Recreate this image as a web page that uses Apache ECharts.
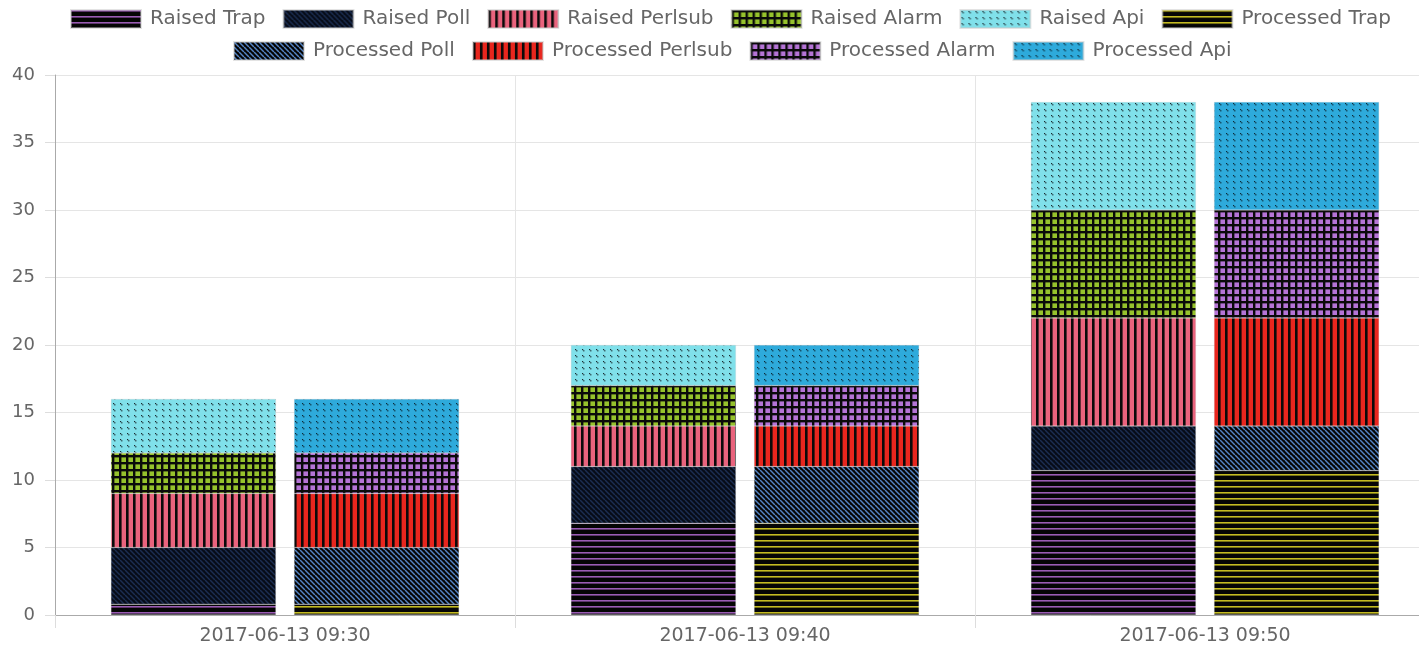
<!DOCTYPE html>
<html>
<head>
<meta charset="utf-8">
<script src="https://cdn.jsdelivr.net/npm/echarts@6/dist/echarts.min.js"></script>
<style>
html,body{margin:0;padding:0;background:#fff;overflow:hidden;width:1419px;height:648px;}
#chart{width:1450px;height:648px;}
</style>
</head>
<body>
<div id="chart"></div>
<script>
// ---- data ----
const categories = ['2017-06-13 09:30', '2017-06-13 09:40', '2017-06-13 09:50'];
const raisedTrap = [0.8, 6.8, 10.7];
const raisedPoll = [4.2, 4.2, 3.3];
const raisedPerlsub = [4, 3, 8];
const raisedAlarm = [3, 3, 8];
const raisedApi = [4, 3, 8];
const processedTrap = [0.8, 6.8, 10.7];
const processedPoll = [4.2, 4.2, 3.3];
const processedPerlsub = [4, 3, 8];
const processedAlarm = [3, 3, 8];
const processedApi = [4, 3, 8];
const yTicks = { min: 0, max: 40, interval: 5 };

// ---- pattern helpers (styles) ----
function makeTile(kind, bg, fg) {
  const c = document.createElement('canvas');
  let w = 6, h = 6;
  if (kind === 'hline') { w = 6; h = 6; }
  if (kind === 'vline') { w = 7; h = 7; }
  if (kind === 'grid') { w = 7; h = 7; }
  if (kind === 'diag') { w = 5; h = 5; }
  if (kind === 'dash') { w = 7; h = 6; }
  c.width = w; c.height = h;
  const g = c.getContext('2d');
  g.fillStyle = bg; g.fillRect(0, 0, w, h);
  g.fillStyle = fg; g.strokeStyle = fg;
  if (kind === 'hline') { g.fillRect(0, 0, w, 1.6); }
  if (kind === 'vline') { g.fillRect(0, 0, 2.6, h); }
  if (kind === 'grid') { g.fillRect(0, 0, 2.4, h); g.fillRect(0, 0, w, 2.4); }
  if (kind === 'diag') {
    g.lineWidth = 1.5;
    for (let o = -w; o <= w; o += w) {
      g.beginPath(); g.moveTo(o, 0); g.lineTo(o + w, h); g.stroke();
    }
  }
  if (kind === 'dash') {
    g.fillRect(1, 1, 1.2, 1.2); g.fillRect(2.2, 2.2, 1.2, 1.2);
  }
  return { image: c, repeat: 'repeat' };
}

const styles = {
  'Raised Trap': makeTile('hline', '#050505', '#9a5cb4'),
  'Raised Poll': makeTile('diag', '#070c18', '#1c2e52'),
  'Raised Perlsub': makeTile('vline', '#e9637d', '#0a0a0a'),
  'Raised Alarm': makeTile('grid', '#96c22c', '#0a0a0a'),
  'Raised Api': makeTile('dash', '#80e0ea', '#1a2a30'),
  'Processed Trap': makeTile('hline', '#050505', '#c4bb22'),
  'Processed Poll': makeTile('diag', '#050505', '#5584c4'),
  'Processed Perlsub': makeTile('vline', '#e8261e', '#0a0a0a'),
  'Processed Alarm': makeTile('grid', '#b574d6', '#0a0a0a'),
  'Processed Api': makeTile('dash', '#2eaadb', '#0d2a38')
};

const seriesDefs = [
  ['Raised Trap', raisedTrap, 'raised'],
  ['Raised Poll', raisedPoll, 'raised'],
  ['Raised Perlsub', raisedPerlsub, 'raised'],
  ['Raised Alarm', raisedAlarm, 'raised'],
  ['Raised Api', raisedApi, 'raised'],
  ['Processed Trap', processedTrap, 'processed'],
  ['Processed Poll', processedPoll, 'processed'],
  ['Processed Perlsub', processedPerlsub, 'processed'],
  ['Processed Alarm', processedAlarm, 'processed'],
  ['Processed Api', processedApi, 'processed']
];

const FONT = 'DejaVu Sans';
const chart = echarts.init(document.getElementById('chart'), null, { renderer: 'canvas' });
const legendCommon = {
  itemWidth: 70, itemHeight: 18, itemGap: 17, icon: 'rect', padding: 0,
  textStyle: { color: '#666', fontFamily: FONT, fontSize: 20, padding: [0, 0, 0, 4] },
  selectedMode: true
};
chart.setOption({
  animation: false,
  legend: [
    Object.assign({}, legendCommon, { top: 9, left: 70, data: seriesDefs.slice(0, 6).map(d => d[0]) }),
    Object.assign({}, legendCommon, { top: 41, left: 233, data: seriesDefs.slice(6).map(d => d[0]) })
  ],
  grid: { left: 55, width: 1380, top: 75, bottom: 33, containLabel: false },
  xAxis: {
    type: 'category', data: categories,
    axisLine: { show: true, lineStyle: { color: '#aaa' } },
    axisTick: { show: true, length: 13, interval: 0, lineStyle: { color: '#ddd' } },
    splitLine: { show: true, interval: 0, lineStyle: { color: '#e5e5e5' } },
    axisLabel: { color: '#666', fontFamily: FONT, fontSize: 19, margin: 12 }
  },
  yAxis: {
    type: 'value', min: yTicks.min, max: yTicks.max, interval: yTicks.interval,
    axisLine: { show: true, lineStyle: { color: '#aaa' } },
    axisTick: { show: true, length: 10, lineStyle: { color: '#ddd' } },
    splitLine: { show: true, lineStyle: { color: '#e5e5e5' } },
    axisLabel: { color: '#666', fontFamily: FONT, fontSize: 18, margin: 20 }
  },
  series: seriesDefs.map(([name, data, stack]) => ({
    name, type: 'bar', stack, data,
    barWidth: 165, barGap: '11%',
    itemStyle: { color: styles[name], borderColor: 'rgba(200,200,200,0.5)', borderWidth: 0.5 },
    emphasis: { disabled: true }
  }))
});
</script>
</body>
</html>
